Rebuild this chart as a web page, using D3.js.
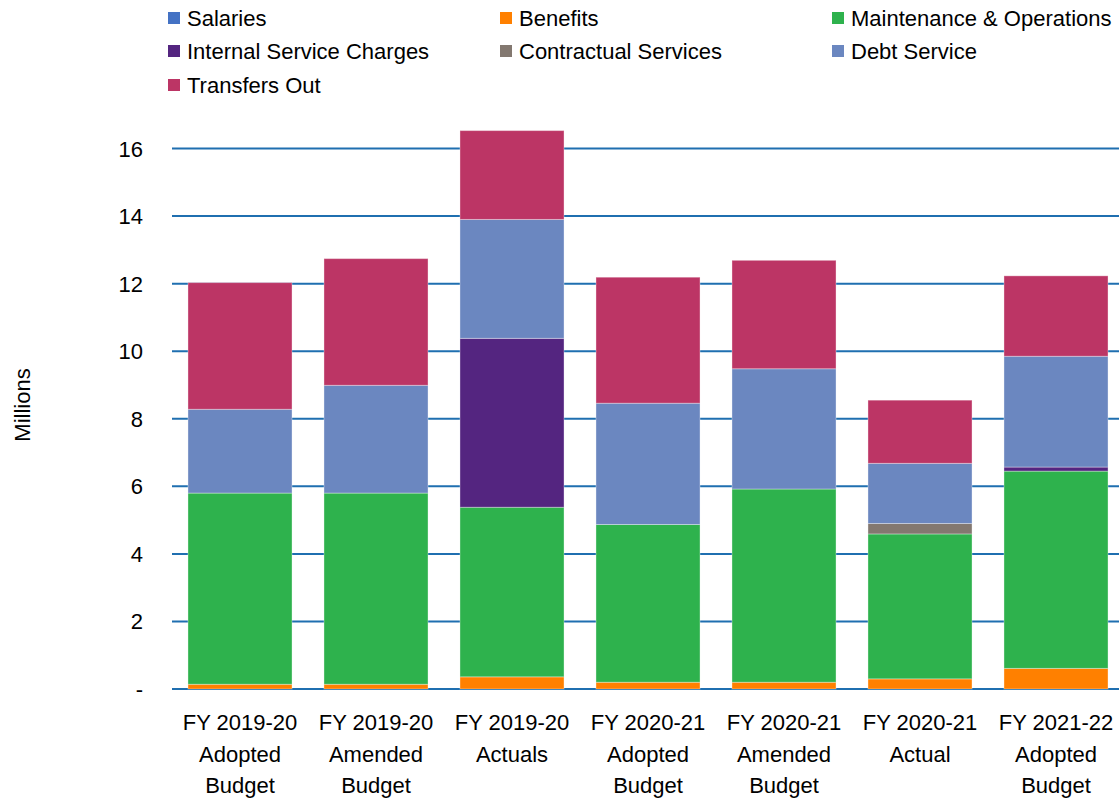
<!DOCTYPE html>
<html>
<head>
<meta charset="utf-8">
<script src="https://cdn.jsdelivr.net/npm/d3@7"></script>
<style>
  body { margin: 0; background: #fff; }
  text { font-family: "Liberation Sans", Arial, sans-serif; fill: #000; }
</style>
</head>
<body>
<div id="chart"></div>
<script>
// categories (each label split into lines)
let categories = [
  ["FY 2019-20", "Adopted", "Budget"],
  ["FY 2019-20", "Amended", "Budget"],
  ["FY 2019-20", "Actuals"],
  ["FY 2020-21", "Adopted", "Budget"],
  ["FY 2020-21", "Amended", "Budget"],
  ["FY 2020-21", "Actual"],
  ["FY 2021-22", "Adopted", "Budget"]
];

let seriesNames = ["Salaries", "Benefits", "Maintenance & Operations", "Internal Service Charges",
  "Contractual Services", "Debt Service", "Transfers Out"];
let seriesColors = ["#4472c4", "#ff8000", "#2eb24d", "#542580", "#837870", "#6b87c0", "#bc3565"];

// values in millions
let salaries    = [0, 0, 0, 0, 0, 0, 0];
let benefits    = [0.14, 0.14, 0.36, 0.20, 0.20, 0.30, 0.61];
let maintenance = [5.66, 5.66, 5.02, 4.67, 5.72, 4.29, 5.84];
let internalSvc = [0, 0, 5.00, 0, 0, 0, 0.12];
let contractual = [0, 0, 0, 0, 0, 0.31, 0];
let debtService = [2.48, 3.19, 3.52, 3.59, 3.56, 1.78, 3.28];
let transfers   = [3.75, 3.75, 2.63, 3.73, 3.21, 1.87, 2.38];

let yTicks = [0, 2, 4, 6, 8, 10, 12, 14, 16];

let width = 1119, height = 802;
let plotLeft = 172, plotRight = 1124, plotTop = 148.5, plotBottom = 689;

let svg = d3.select("#chart").append("svg")
  .attr("width", width).attr("height", height);

let series = [salaries, benefits, maintenance, internalSvc, contractual, debtService, transfers];
let rows = categories.map(function (c, i) {
  let r = { idx: i };
  seriesNames.forEach(function (s, j) { r[s] = series[j][i]; });
  return r;
});
let stacked = d3.stack().keys(seriesNames)(rows);

let x = d3.scaleBand().domain(d3.range(categories.length)).range([plotLeft, plotRight])
  .paddingInner(0.235).paddingOuter(0.1175);
let y = d3.scaleLinear().domain([0, 16]).range([plotBottom, plotTop]);

// gridlines
svg.append("g").selectAll("line")
  .data(yTicks).enter().append("line")
  .attr("x1", plotLeft).attr("x2", width)
  .attr("y1", function (d) { return y(d); })
  .attr("y2", function (d) { return y(d); })
  .attr("stroke", "#1f6fb0").attr("stroke-width", 2);

// y tick labels
svg.append("g").selectAll("text")
  .data(yTicks).enter().append("text")
  .attr("x", 143)
  .attr("y", function (d) { return y(d) + 8; })
  .attr("text-anchor", "end")
  .attr("font-size", 22)
  .text(function (d) { return d === 0 ? "-" : d; });

// axis title
svg.append("text")
  .attr("transform", "translate(30,405) rotate(-90)")
  .attr("text-anchor", "middle")
  .attr("font-size", 22)
  .text("Millions");

// bars
svg.append("g").selectAll("g")
  .data(stacked).enter().append("g")
  .attr("fill", function (d, i) { return seriesColors[i]; })
  .selectAll("rect")
  .data(function (d) { return d.filter(function (p) { return p[1] - p[0] > 0; }); })
  .enter().append("rect")
  .attr("x", function (d) { return x(d.data.idx); })
  .attr("width", x.bandwidth())
  .attr("y", function (d) { return y(d[1]); })
  .attr("height", function (d) { return y(d[0]) - y(d[1]); })
  .attr("stroke", "rgba(255,255,255,0.35)")
  .attr("stroke-width", 1);

// x labels
let xl = svg.append("g").selectAll("text")
  .data(categories).enter().append("text")
  .attr("text-anchor", "middle")
  .attr("font-size", 22)
  .attr("x", function (d, i) { return x(i) + x.bandwidth() / 2; })
  .attr("y", 730);
xl.selectAll("tspan")
  .data(function (d) { return d; }).enter().append("tspan")
  .attr("x", function () { return d3.select(this.parentNode).attr("x"); })
  .attr("dy", function (d, i) { return i === 0 ? 0 : 31.5; })
  .text(function (d) { return d; });

// legend
let legendPos = [[168, 18], [500, 18], [832, 18], [168, 51], [500, 51], [832, 51], [168, 85]];
let lg = svg.append("g").selectAll("g")
  .data(seriesNames).enter().append("g")
  .attr("transform", function (d, i) { return "translate(" + legendPos[i][0] + "," + legendPos[i][1] + ")"; });
lg.append("rect")
  .attr("x", 0).attr("y", -6).attr("width", 12).attr("height", 12)
  .attr("fill", function (d, i) { return seriesColors[i]; });
lg.append("text")
  .attr("x", 19).attr("y", 8)
  .attr("font-size", 22)
  .text(function (d) { return d; });
</script>
</body>
</html>
